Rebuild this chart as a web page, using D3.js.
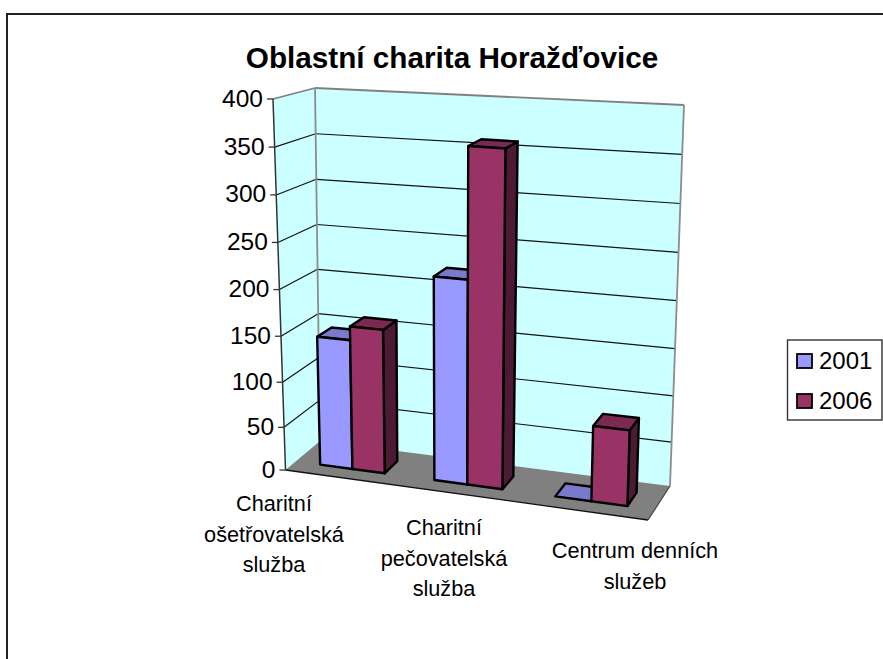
<!DOCTYPE html>
<html><head><meta charset="utf-8">
<script src="https://cdnjs.cloudflare.com/ajax/libs/d3/7.8.5/d3.min.js"></script>
<style>html,body{margin:0;padding:0;background:#fff}svg{display:block}text{font-family:"Liberation Sans",Arial,sans-serif;fill:#000}</style>
</head><body><script>
const title = "Oblastní charita Horažďovice";
const categories = ["Charitní ošetřovatelská služba","Charitní pečovatelská služba","Centrum denních služeb"];
const categoryLines = [["Charitní","ošetřovatelská","služba"],["Charitní","pečovatelská","služba"],["Centrum denních","služeb"]];
const seriesNames = ["2001","2006"];
const values2001 = [145,222,0];
const values2006 = [160,360,83];
const yTicks = [0,50,100,150,200,250,300,350,400];

const W=883,H=659;
const svg=d3.select("body").append("svg").attr("width",W).attr("height",H);
svg.append("path").attr("d","M7,670V14H883").attr("fill","none").attr("stroke","#222").attr("stroke-width",2);

// Projection: corners of the plot box in screen space
const floor={fl:[285.5,470],fr:[648,520],bl:[320,441],br:[670,486]};
const roof={fl:[273,99],fr:[661,125],bl:[315,88],br:[684,105]};
const uScale=d3.scaleLinear().domain([0,.26,.5,.74,1]).range([0,.246,.478,.725,1]);
const hScale=d3.scalePow().exponent(1.04).domain([0,400]).range([0,1]);
const lerp=d3.interpolateNumber;
function plane(c,u,v){
  const mix=(a,b,t)=>[lerp(a[0],b[0])(t),lerp(a[1],b[1])(t)];
  return mix(mix(c.fl,c.fr,u),mix(c.bl,c.br,u),v);
}
function P(u,v,val){
  const a=plane(floor,uScale(u),v),b=plane(roof,uScale(u),v),t=hScale(val);
  return [lerp(a[0],b[0])(t),lerp(a[1],b[1])(t)];
}
const line=d3.line();
const poly=(pts,fill,stroke,sw)=>svg.append("path").attr("d",line(pts)+"Z").attr("fill",fill)
  .attr("stroke",stroke||"none").attr("stroke-width",sw||0).attr("stroke-linejoin","round");
const seg=(a,b,stroke,sw)=>svg.append("path").attr("d",line([a,b])).attr("stroke",stroke).attr("stroke-width",sw).attr("fill","none");

// Walls and floor
poly([P(0,0,0),P(0,0,400),P(0,1,400),P(0,1,0)],"#ccffff");
poly([P(0,1,0),P(0,1,400),P(1,1,400),P(1,1,0)],"#ccffff");
poly([P(0,0,0),P(1,0,0),P(1,1,0),P(0,1,0)],"#808080");
seg(P(0,0,0),P(1,0,0),"#111",1.3);
seg(P(1,0,0),P(1,1,0),"#444",1.2);
yTicks.filter(d=>d>0).forEach(d=>{
  const c=d===400?"#808080":"#111",w=d===400?1.8:1.2;
  seg(P(0,0,d),P(0,1,d),c,w);
  seg(P(0,1,d),P(1,1,d),c,w);
});
seg(P(0,1,0),P(0,1,400),"#8c8c8c",1.8);
seg(P(1,1,0),P(1,1,400),"#8c8c8c",1.8);
seg(P(0,0,0),P(0,0,400),"#333",1.5);
// ticks and labels
yTicks.forEach(d=>{
  const p=P(0,0,d);
  seg([p[0]-6,p[1]],p,"#333",1.3);
  svg.append("text").attr("x",p[0]-10).attr("y",p[1]+7.5).attr("text-anchor","end").attr("font-size",24.5).text(d);
});

// Bars
const colors=[{f:"#9999ff",t:"#7a7acc",s:"#4d4d80"},{f:"#993366",t:"#7a2952",s:"#4d1a33"}];
const band=d3.scaleBand().domain(categories).range([0,1]).paddingInner(0.43).paddingOuter(0.215);
const sub=d3.scaleBand().domain(seriesNames).range([0,band.bandwidth()]);
const v0=0.3,v1=0.7;
function bar(u0,u1,val,c){
  const k="#000",w=2.4;
  if(val>0){
    poly([P(u1,v0,0),P(u1,v1,0),P(u1,v1,val),P(u1,v0,val)],c.s,k,w);
    poly([P(u0,v1,val),P(u1,v1,val),P(u1,v0,val),P(u0,v0,val)],c.t,k,w);
    poly([P(u0,v0,0),P(u1,v0,0),P(u1,v0,val),P(u0,v0,val)],c.f,k,w);
  } else {
    poly([P(u0,v1,0),P(u1,v1,0),P(u1,v0,0),P(u0,v0,0)],c.t,k,w);
  }
}
categories.forEach((cat,i)=>{
  [values2001,values2006].forEach((vals,j)=>{
    const u0=band(cat)+sub(seriesNames[j]);
    bar(u0,u0+sub.bandwidth(),vals[i],colors[j]);
  });
});

// Category labels
const labelCenters=[274,444,635], labelTops=[511,535,558];
categoryLines.forEach((ls,i)=>{
  ls.forEach((s,k)=>svg.append("text").attr("x",labelCenters[i]).attr("y",labelTops[i]+k*30.5)
    .attr("text-anchor","middle").attr("font-size",21.7).text(s));
});

// Title
svg.append("text").attr("x",452).attr("y",68).attr("text-anchor","middle").attr("font-size",29.7).attr("font-weight","bold").text(title);

// Legend
svg.append("rect").attr("x",787.5).attr("y",340).attr("width",94.5).attr("height",80).attr("fill","#fff").attr("stroke","#333").attr("stroke-width",1.4);
seriesNames.forEach((s,i)=>{
  const y=354+i*40;
  svg.append("rect").attr("x",797).attr("y",y).attr("width",15).attr("height",14).attr("fill",colors[i].f).attr("stroke","#000").attr("stroke-width",1.8);
  svg.append("text").attr("x",819).attr("y",y+14.5).attr("font-size",24).text(s);
});
</script></body></html>
